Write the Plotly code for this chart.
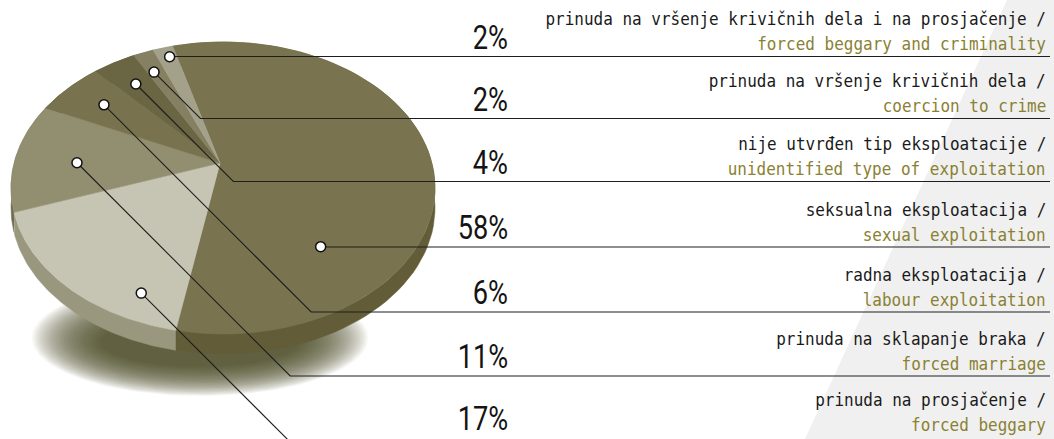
import json
import numpy as np
import plotly.graph_objects as go

# ---------------- data (slice order, clockwise from the top) ----------------
labels_sr = [
    "seksualna eksploatacija /",
    "prinuda na prosjačenje /",
    "prinuda na sklapanje braka /",
    "radna eksploatacija /",
    "nije utvrđen tip eksploatacije /",
    "prinuda na vršenje krivičnih dela /",
    "prinuda na vršenje krivičnih dela i na prosjačenje /",
]
labels_en = [
    "sexual exploitation",
    "forced beggary",
    "forced marriage",
    "labour exploitation",
    "unidentified type of exploitation",
    "coercion to crime",
    "forced beggary and criminality",
]
values = [58, 17, 11, 6, 4, 2, 2]
pct_text = ["58%", "17%", "11%", "6%", "4%", "2%", "2%"]
# row of each category in the list on the right (0 = top)
label_row = [3, 6, 5, 4, 2, 1, 0]

# ---------------- styles / layout ----------------
slice_colors = ["#79744f", "#c6c4b3", "#928e70", "#78734e", "#6a6543", "#848061", "#a4a18b"]
side_colors = ["#625d38", "#9a977f", "#6f6b4e", "#5f5b37", "#524e30", "#676345", "#817e67"]
# dot anchor inside each slice: (fraction along slice, fraction of radius)
dot_t = [0.74, 0.22, 0.44, 0.50, 0.47, 0.35, 0.62]
dot_r = [0.655, 0.84, 0.695, 0.77, 0.79, 0.83, 0.92]
# y pixel of the rule under each row of the list
row_rule_y = [56.5, 118.5, 181.5, 247, 312, 376, 441.5]

# geometry of the tilted pie (pixel space)
PX, PY = 220.0, 163.0        # apex where slices meet
EX, EY = 223.0, 188.0        # centre of top-face ellipse
A, B = 212.0, 146.0          # semi axes
K = 1.3                      # perspective stretch
PHI0 = np.deg2rad(-17.3)
THICK = 20.0

W, H = 1054, 439


def rim_dist(phi):
    dx, dy = K * np.sin(phi), -np.cos(phi)
    n = np.hypot(dx, dy)
    dx, dy = dx / n, dy / n
    ox, oy = PX - EX, PY - EY
    a = (dx / A) ** 2 + (dy / B) ** 2
    b = 2 * (ox * dx / A ** 2 + oy * dy / B ** 2)
    c = (ox / A) ** 2 + (oy / B) ** 2 - 1
    s = (-b + np.sqrt(b * b - 4 * a * c)) / (2 * a)
    return s, dx, dy


def rim_point(phi, frac=1.0):
    s, dx, dy = rim_dist(phi)
    return PX + frac * s * dx, PY + frac * s * dy


fig = go.Figure()

# soft blurred shadow / reflection under the pie
NSH = 36
for i in range(NSH):
    f = i / (NSH - 1)
    fa = 168 - 70 * f
    fb = 58 - 34 * f
    tt = np.linspace(0, 2 * np.pi, 140)
    fig.add_trace(go.Scatter(
        x=200 + fa * np.cos(tt), y=338 + 4 * f + fb * np.sin(tt),
        fill="toself", mode="lines", line=dict(width=0),
        fillcolor="rgba(84,78,30,0.05)", hoverinfo="skip"))

total = float(sum(values))
cum = np.concatenate([[0], np.cumsum(values)]) / total
starts = PHI0 + 2 * np.pi * cum[:-1]
ends = PHI0 + 2 * np.pi * cum[1:]

# side faces
for i in range(len(values)):
    ph = np.linspace(starts[i], ends[i], 90)
    pts = np.array([rim_point(p) for p in ph])
    xs = np.concatenate([pts[:, 0], pts[::-1, 0]])
    ys = np.concatenate([pts[:, 1], pts[::-1, 1] + THICK])
    fig.add_trace(go.Scatter(x=xs, y=ys, fill="toself", mode="lines",
                             line=dict(width=0.5, color=side_colors[i]),
                             fillcolor=side_colors[i], hoverinfo="skip"))

# top faces
for i in range(len(values)):
    ph = np.linspace(starts[i], ends[i], 90)
    pts = np.array([rim_point(p) for p in ph])
    xs = np.concatenate([[PX], pts[:, 0], [PX]])
    ys = np.concatenate([[PY], pts[:, 1], [PY]])
    fig.add_trace(go.Scatter(x=xs, y=ys, fill="toself", mode="lines",
                             line=dict(width=0.6, color=slice_colors[i]),
                             fillcolor=slice_colors[i], hoverinfo="skip",
                             name=labels_en[i]))

# rows, leader lines, dots, texts
X_END = 1050
PCT_SIZE, PCT_SX = 34, 0.80
LAB_SIZE, LAB_SX = 18.5, 0.865
PCT_FONT = "Roboto, Noto Sans, sans-serif"
LAB_FONT = "DejaVu Sans Mono, Liberation Mono, monospace"
TEXT_ROW_MAX = 437.5

annotations = []
scales = []
dots_x, dots_y = [], []
for i in range(len(values)):
    ry = row_rule_y[label_row[i]]
    phi = starts[i] + dot_t[i] * (ends[i] - starts[i])
    dx0, dy0 = rim_point(phi, dot_r[i])
    dots_x.append(dx0)
    dots_y.append(dy0)
    dd = ry - dy0
    fig.add_trace(go.Scatter(x=[dx0, dx0 + abs(dd), X_END], y=[dy0, ry, ry],
                             mode="lines", line=dict(color="#1e1e1e", width=1.1),
                             hoverinfo="skip"))
    ty = min(ry, TEXT_ROW_MAX)
    base_pct = ty - 8
    base1 = ty - 31.5
    base2 = ty - 6.5
    annotations.append(dict(x=509, y=base_pct - 0.35 * PCT_SIZE, text=pct_text[i],
                            xanchor="right", yanchor="middle", showarrow=False,
                            borderpad=0,
                            font=dict(family=PCT_FONT, size=PCT_SIZE, color="#141414")))
    scales.append(PCT_SX)
    annotations.append(dict(x=1047, y=base1 - 0.35 * LAB_SIZE, text=labels_sr[i],
                            xanchor="right", yanchor="middle", showarrow=False,
                            borderpad=0,
                            font=dict(family=LAB_FONT, size=LAB_SIZE, color="#1a1a1a")))
    scales.append(LAB_SX)
    annotations.append(dict(x=1047, y=base2 - 0.35 * LAB_SIZE, text=labels_en[i],
                            xanchor="right", yanchor="middle", showarrow=False,
                            borderpad=0,
                            font=dict(family=LAB_FONT, size=LAB_SIZE, color="#8a8132")))
    scales.append(LAB_SX)

fig.add_trace(go.Scatter(x=dots_x, y=dots_y, mode="markers",
                         marker=dict(size=10, color="white",
                                     line=dict(color="#111111", width=1.5)),
                         hoverinfo="skip"))

fig.update_layout(
    width=W, height=H, autosize=False,
    margin=dict(l=0, r=0, t=0, b=0),
    paper_bgcolor="white", plot_bgcolor="white",
    showlegend=False,
    xaxis=dict(range=[0, W], visible=False, fixedrange=True),
    yaxis=dict(range=[H, 0], visible=False, fixedrange=True),
    annotations=annotations,
    shapes=[dict(type="path", layer="below",
                 path="M 1007 0 L 1054 0 L 1054 439 L 805 439 Z",
                 fillcolor="#f0f0f0", line=dict(width=0))],
)

post = """
document.body.style.margin='0';
document.body.style.padding='0';
document.body.style.overflow='hidden';
var sx = %s;
var gd = document.getElementById('{plot_id}');
gd.querySelectorAll('g.annotation').forEach(function(g){
  var k = parseInt(g.getAttribute('data-index'));
  var t = g.querySelector('text');
  if (t && !isNaN(k) && sx[k] !== undefined) {
    t.style.transformBox = 'fill-box';
    t.style.transformOrigin = '100%% 50%%';
    t.style.transform = 'scaleX(' + sx[k] + ')';
  }
});
""" % json.dumps(scales)

fig.write_html("out.html", post_script=post,
               config={"displayModeBar": False, "staticPlot": True})
